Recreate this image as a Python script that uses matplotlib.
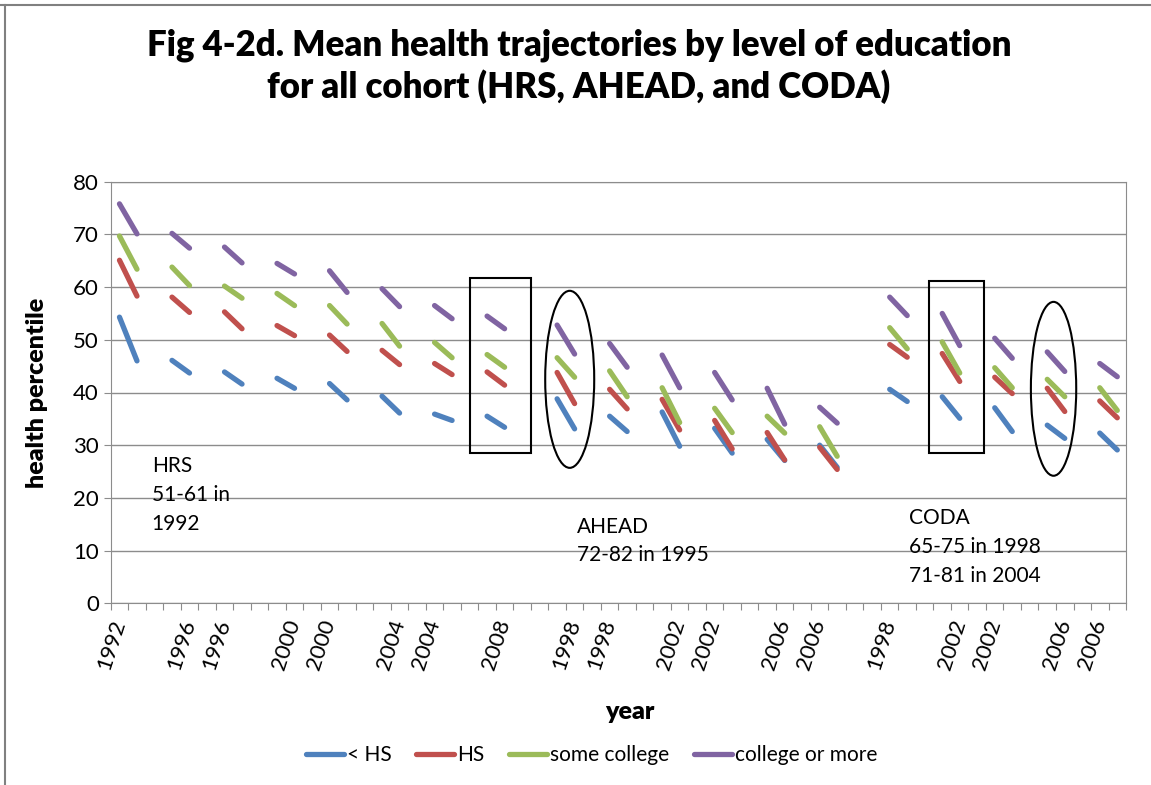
import numpy as np
import matplotlib.pyplot as plt
from matplotlib.patches import Rectangle, Ellipse
from matplotlib.lines import Line2D

plt.rcParams['font.family'] = ['Lato', 'DejaVu Sans']

# category slot where each two-point segment starts (ends at slot + 1)
seg_pos = [0, 3, 6, 9, 12, 15, 18, 21, 25, 28, 31, 34, 37, 40, 44, 47, 50, 53, 56]
n_cat = 58

lt_hs = [(54.3, 46.0), (46.1, 43.7), (43.9, 41.6), (42.7, 40.8), (41.7, 38.6),
         (39.3, 36.1), (35.9, 34.7), (35.5, 33.4), (38.8, 33.1), (35.5, 32.6),
         (36.3, 29.8), (33.2, 28.5), (31.1, 27.1), (30.0, 25.8), (40.6, 38.3),
         (39.2, 35.1), (37.1, 32.6), (33.8, 31.3), (32.3, 29.1)]
hs = [(65.1, 58.3), (58.1, 55.2), (55.3, 52.1), (52.7, 50.8), (50.9, 47.8),
      (48.0, 45.3), (45.5, 43.4), (43.9, 41.4), (43.8, 37.9), (40.6, 36.9),
      (38.7, 32.9), (34.7, 29.3), (32.4, 27.2), (29.6, 25.4), (49.1, 46.7),
      (47.4, 42.1), (42.9, 39.8), (40.8, 36.4), (38.4, 35.2)]
some_college = [(69.7, 63.4), (63.8, 60.3), (60.2, 57.9), (58.8, 56.5), (56.5, 53.0),
                (53.1, 48.8), (49.5, 46.6), (47.2, 44.8), (46.6, 42.9), (44.1, 39.2),
                (40.9, 34.3), (37.0, 32.4), (35.5, 32.3), (33.5, 27.9), (52.3, 48.3),
                (49.6, 43.7), (44.7, 40.9), (42.5, 39.2), (40.9, 36.6)]
college_more = [(75.8, 70.1), (70.2, 67.4), (67.6, 64.6), (64.5, 62.5), (63.1, 59.0),
                (59.7, 56.3), (56.5, 54.0), (54.5, 52.1), (52.8, 47.3), (49.3, 44.8),
                (47.1, 40.9), (43.8, 38.6), (40.8, 34.0), (37.2, 34.2), (58.1, 54.6),
                (55.0, 48.9), (50.3, 46.5), (47.7, 44.0), (45.5, 43.0)]

label_pos = [0, 4, 6, 10, 12, 16, 18, 22, 26, 28, 32, 34, 38, 40, 44, 48, 50, 54, 56]
label_txt = ['1992', '1996', '1996', '2000', '2000', '2004', '2004', '2008', '1998', '1998',
             '2002', '2002', '2006', '2006', '1998', '2002', '2002', '2006', '2006']

series = [('< HS', lt_hs, '#4F81BD'), ('HS', hs, '#C0504D'),
          ('some college', some_college, '#9BBB59'), ('college or more', college_more, '#8064A2')]

fig = plt.figure(figsize=(11.51, 7.85), dpi=100)
ax = fig.add_axes([0.0962, 0.2315, 0.8821, 0.537])

for name, vals, col in series:
    y = np.full(n_cat, np.nan)
    for p, (a, b) in zip(seg_pos, vals):
        y[p] = a
        y[p + 1] = b
    ax.plot(np.arange(n_cat), y, color=col, lw=3.8, solid_capstyle='round', label=name)

ax.set_xlim(-0.5, n_cat - 0.5)
ax.set_ylim(0, 80)
ax.set_yticks(range(0, 81, 10))
ax.grid(axis='y', color='#8c8c8c', lw=1)
ax.set_axisbelow(True)
for s in ax.spines.values():
    s.set_color('#8c8c8c')
ax.set_xticks(np.arange(-0.5, n_cat, 1))
ax.set_xticklabels([])
ax.set_xticks(label_pos, minor=True)
ax.set_xticklabels(label_txt, minor=True, rotation=72, rotation_mode='anchor',
                   ha='right', va='center', fontsize=16)
ax.tick_params(axis='x', which='major', length=5, color='#8c8c8c')
ax.tick_params(axis='x', which='minor', length=0, pad=12)
ax.tick_params(axis='y', length=5, color='#8c8c8c', labelsize=16)

# cohort annotations
ax.text(1.84, 20.6, 'HRS\n51-61 in\n1992', fontsize=15, va='center', linespacing=1.55)
ax.text(26.16, 11.8, 'AHEAD\n72-82 in 1995', fontsize=15, va='center', linespacing=1.55)
ax.text(45.08, 10.7, 'CODA\n65-75 in 1998\n71-81 in 2004', fontsize=15, va='center', linespacing=1.55)

ax.add_patch(Rectangle((20.03, 28.5), 3.49, 33.3, fill=False, ec='black', lw=1.5))
ax.add_patch(Rectangle((46.22, 28.5), 3.14, 32.7, fill=False, ec='black', lw=1.5))
ax.add_patch(Ellipse((25.72, 42.5), 2.8, 33.6, fill=False, ec='black', lw=1.5))
ax.add_patch(Ellipse((53.36, 40.7), 2.59, 33.0, fill=False, ec='black', lw=1.5))

fig.text(0.503, 0.916, 'Fig 4-2d. Mean health trajectories by level of education\nfor all cohort (HRS, AHEAD, and CODA)',
         ha='center', va='center', fontsize=25, weight='heavy', linespacing=1.25)
fig.text(0.032, 0.499, 'health percentile', rotation=90, ha='center', va='center',
         fontsize=18, weight='heavy')
fig.text(0.547, 0.093, 'year', ha='center', va='center', fontsize=18, weight='heavy')

ax.legend(loc='center', bbox_to_anchor=(0.514, 0.038), bbox_transform=fig.transFigure,
          ncol=4, frameon=False, fontsize=15, handlelength=1.8, handletextpad=0.15,
          columnspacing=1.2)

# chart area border (only top and left visible in the crop)
fig.add_artist(Line2D([0, 1], [1 - 5 / 785, 1 - 5 / 785], color='#808080', lw=1.5))
fig.add_artist(Line2D([4.5 / 1151, 4.5 / 1151], [0, 1 - 5 / 785], color='#808080', lw=1.5))

fig.savefig('out.png', dpi=100)
